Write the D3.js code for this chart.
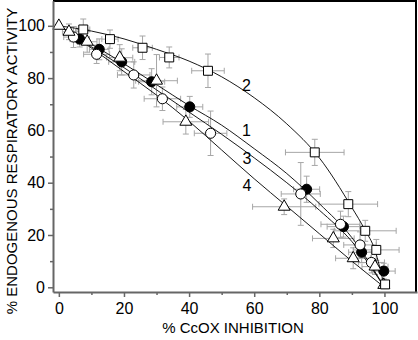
<!DOCTYPE html>
<html>
<head>
<meta charset="utf-8">
<script src="https://cdn.jsdelivr.net/npm/d3@7"></script>
<style>
  body { margin: 0; background: #fff; }
  text { font-family: "Liberation Sans", Arial, sans-serif; fill: #000; }
</style>
</head>
<body>
<div class="chart"></div>
<script>
// declare global values
const WIDTH = 418;
const HEIGHT = 340;

// series 1: filled circles
const filledX = [6.4, 12.4, 19.3, 28.5, 40.2, 76.1, 87.4, 93, 99.8];
const filledY = [94.9, 91, 86.2, 78.6, 69, 37.5, 23.2, 13.4, 6.2];
const filledXErr = [3, 3, 4, 4, 4, 4, 5, 4, 3.5];
const filledYErr = [3, 4, 5, 5, 4, 5, 4, 4, 3];

// series 2: open squares
const squareX = [7.5, 15.7, 25.7, 33.9, 45.8, 78.6, 88.9, 94.1, 97.5, 100.2];
const squareY = [98.6, 94.9, 91.6, 87.9, 82.8, 51.6, 31.8, 21.6, 14.3, 1.1];
const squareXErr = [2, 2.5, 3, 3, 5, 9, 9, 9.5, 7, 1];
const squareYErr = [4, 3.5, 4.5, 4, 6.4, 5, 4.8, 4, 4, 1];

// series 3: open circles
const openX = [4.5, 11.6, 23, 31.8, 46.6, 74.3, 86.5, 92.5, 96];
const openY = [95.7, 89.1, 81.2, 72.1, 58.9, 35.7, 24.1, 16.2, 9.5];
const openXErr = [3, 4, 5, 5.6, 5, 6, 6, 5, 4];
const openYErr = [4, 3.5, 5, 4.5, 8.5, 12, 5, 5, 4];

// series 4: open triangles
const triX = [0, 3.1, 8.7, 18.7, 30, 39, 69.2, 84.3, 90.4, 97.1, 99.8];
const triY = [100, 97.7, 93.9, 87.8, 79, 63.3, 30.8, 18.7, 11.1, 7.9, 0.9];
const triXErr = [0, 2, 3, 4, 6.4, 7, 9.7, 6.4, 5.4, 4, 1];
const triYErr = [0, 3, 4, 5, 10, 4.7, 3, 3.5, 4, 3, 1];

// fitted curves
const curveGridX = [0, 10, 20, 30, 40, 50, 60, 70, 80, 90, 100];
const curve1Y = [100, 93, 85.5, 77.5, 69.5, 62, 53, 43.5, 32, 19, 0];
const curve3Y = [100, 92, 84, 75.5, 67, 58.5, 49.5, 40, 29.5, 17.5, 0];
const curve4Y = [100, 91.5, 82.5, 73.5, 63.5, 52.5, 41.5, 31, 20.5, 10, 0];
const curve2X = [0, 10, 20, 30, 40, 50, 60, 70, 80, 90, 94, 97, 100];
const curve2Y = [100, 98, 95, 91, 86.5, 80.5, 72.5, 62.5, 49.5, 30.5, 22, 14.5, 0];

// curve labels
const labelText = ["1", "2", "3", "4"];
const labelX = [57.6, 57.6, 57.8, 57.8];
const labelY = [60.2, 77.1, 49.4, 39.1];

const xMajor = [0, 20, 40, 60, 80, 100];
const xMinor = [10, 30, 50, 70, 90];
const yMajor = [0, 20, 40, 60, 80, 100];
const yMinor = [10, 30, 50, 70, 90];

// set the ranges
var x = d3.scaleLinear().domain([-1.8, 110]).range([53, 417]);
var y = d3.scaleLinear().domain([-1.8, 109.6]).range([292, 0.7]);

var svg = d3
  .select(".chart")
  .append("svg")
  .attr("width", WIDTH)
  .attr("height", HEIGHT);

const zip = (xs, ys, xe, ye) =>
  xs.map((v, i) => ({ x: v, y: ys[i], xe: xe ? xe[i] : 0, ye: ye ? ye[i] : 0 }));

var filled = zip(filledX, filledY, filledXErr, filledYErr);
var squares = zip(squareX, squareY, squareXErr, squareYErr);
var opens = zip(openX, openY, openXErr, openYErr);
var tris = zip(triX, triY, triXErr, triYErr);

// error bars (grey, with caps)
const CAP = 3;
var errG = svg.append("g").attr("stroke", "#a6a6a6").attr("stroke-width", 1).attr("fill", "none");
[filled, squares, opens, tris].forEach(function (series) {
  series.forEach(function (d) {
    var cx = x(d.x), cy = y(d.y);
    if (d.xe > 0) {
      var x0 = x(d.x - d.xe), x1 = x(d.x + d.xe);
      errG.append("line").attr("x1", x0).attr("x2", x1).attr("y1", cy).attr("y2", cy);
      errG.append("line").attr("x1", x0).attr("x2", x0).attr("y1", cy - CAP).attr("y2", cy + CAP);
      errG.append("line").attr("x1", x1).attr("x2", x1).attr("y1", cy - CAP).attr("y2", cy + CAP);
    }
    if (d.ye > 0) {
      var y0 = y(d.y - d.ye), y1 = y(d.y + d.ye);
      errG.append("line").attr("x1", cx).attr("x2", cx).attr("y1", y0).attr("y2", y1);
      errG.append("line").attr("x1", cx - CAP).attr("x2", cx + CAP).attr("y1", y0).attr("y2", y0);
      errG.append("line").attr("x1", cx - CAP).attr("x2", cx + CAP).attr("y1", y1).attr("y2", y1);
    }
  });
});

// fitted curves
var valueLine = d3
  .line()
  .x(function (d) { return x(d[0]); })
  .y(function (d) { return y(d[1]); })
  .curve(d3.curveMonotoneX);

[
  [curveGridX, curve1Y],
  [curve2X, curve2Y],
  [curveGridX, curve3Y],
  [curveGridX, curve4Y],
].forEach(function (c) {
  svg
    .append("path")
    .datum(c[0].map((v, i) => [v, c[1][i]]))
    .attr("d", valueLine)
    .attr("fill", "none")
    .attr("stroke", "#000")
    .attr("stroke-width", 0.9);
});

// markers
const drawMarkers = (data, type, size, fill) => {
  svg
    .append("g")
    .selectAll("path")
    .data(data)
    .enter()
    .append("path")
    .attr("d", d3.symbol().type(type).size(size))
    .attr("transform", (d) => "translate(" + x(d.x) + "," + y(d.y) + ")")
    .attr("fill", fill)
    .attr("stroke", "#000")
    .attr("stroke-width", 1);
};

drawMarkers(filled, d3.symbolCircle, 80, "#000");
drawMarkers(opens, d3.symbolCircle, 80, "#fff");
drawMarkers(tris, d3.symbolTriangle, 62, "#fff");
drawMarkers(squares, d3.symbolSquare, 80, "#fff");

// curve labels
svg
  .append("g")
  .selectAll("text")
  .data(labelText)
  .enter()
  .append("text")
  .attr("x", (d, i) => x(labelX[i]))
  .attr("y", (d, i) => y(labelY[i]))
  .attr("dy", "0.36em")
  .attr("text-anchor", "middle")
  .style("font-size", "16px")
  .text((d) => d);

// frame: top and right
svg.append("line").attr("x1", 53).attr("x2", 417).attr("y1", 1).attr("y2", 1)
  .attr("stroke", "#000").attr("stroke-width", 2);
svg.append("line").attr("x1", 416).attr("x2", 416).attr("y1", 0).attr("y2", 292)
  .attr("stroke", "#000").attr("stroke-width", 2);

// add the x axis
svg
  .append("g")
  .attr("transform", "translate(0,292)")
  .call(d3.axisBottom(x).tickValues(xMajor).tickSize(5).tickSizeOuter(0).tickPadding(6))
  .call((g) => g.select(".domain").attr("stroke", "#666").attr("stroke-width", 2))
  .call((g) => g.selectAll(".tick line").attr("stroke", "#666").attr("stroke-width", 1.5))
  .call((g) => g.selectAll(".tick text").style("font-size", "16px").attr("font-family", null));

svg
  .append("g")
  .attr("transform", "translate(0,292)")
  .call(d3.axisBottom(x).tickValues(xMinor).tickSize(3).tickFormat(""))
  .call((g) => g.select(".domain").remove())
  .call((g) => g.selectAll(".tick line").attr("stroke", "#666").attr("stroke-width", 1.5));

// add the y axis
svg
  .append("g")
  .attr("transform", "translate(53,0)")
  .call(d3.axisLeft(y).tickValues(yMajor).tickSize(5).tickSizeOuter(0).tickPadding(3))
  .call((g) => g.select(".domain").attr("stroke", "#666").attr("stroke-width", 2))
  .call((g) => g.selectAll(".tick line").attr("stroke", "#666").attr("stroke-width", 1.5))
  .call((g) => g.selectAll(".tick text").style("font-size", "16px").attr("font-family", null));

svg
  .append("g")
  .attr("transform", "translate(53,0)")
  .call(d3.axisLeft(y).tickValues(yMinor).tickSize(3).tickFormat(""))
  .call((g) => g.select(".domain").remove())
  .call((g) => g.selectAll(".tick line").attr("stroke", "#666").attr("stroke-width", 1.5));

// axis titles
svg
  .append("text")
  .attr("x", 233)
  .attr("y", 333)
  .attr("text-anchor", "middle")
  .style("font-size", "15px")
  .text("% CcOX INHIBITION");

svg
  .append("text")
  .attr("transform", "translate(17,161) rotate(-90)")
  .attr("text-anchor", "middle")
  .style("font-size", "15px")
  .text("% ENDOGENOUS RESPIRATORY ACTIVITY");
</script>
</body>
</html>
